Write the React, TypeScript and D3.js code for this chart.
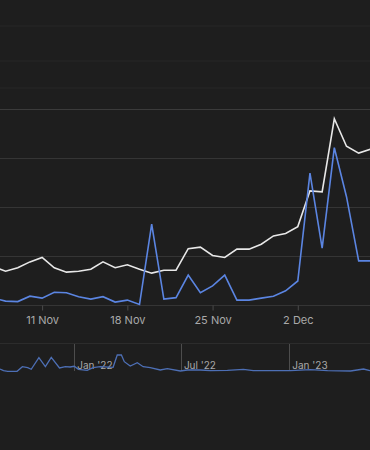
import React, { useRef, useEffect } from "react";
import * as d3 from "d3";

// daily values shown in the main panel (7 Nov .. 8 Dec 2021)
const startDay = "2021-11-07";
const totalSeries = [
  7.8, 6.9, 7.6, 8.8, 9.7, 7.6, 6.7, 6.9, 7.3, 8.8, 7.6, 8.2, 7.3, 6.5, 7.1, 7.1,
  11.5, 11.8, 10.1, 9.7, 11.4, 11.4, 12.4, 14.1, 14.6, 16.0, 23.3, 23.1, 38.0, 32.4,
  31.0, 31.8,
];
const newSeries = [
  1.4, 0.8, 0.7, 1.8, 1.4, 2.6, 2.5, 1.7, 1.2, 1.7, 0.6, 1.0, 0.1, 16.5, 1.2, 1.5,
  6.1, 2.5, 3.9, 6.1, 1.0, 1.0, 1.4, 1.8, 2.9, 4.9, 26.9, 11.6, 32.1, 22.1, 9.0, 9.0,
];
const xTicks = ["2021-11-11", "2021-11-18", "2021-11-25", "2021-12-02"];
const yTicks = [0, 10, 20, 30, 40];

// overview strip
const overviewDates = [
  "2021-08-28", "2021-09-03", "2021-09-10", "2021-09-26", "2021-10-05", "2021-10-14",
  "2021-10-20", "2021-11-02", "2021-11-13", "2021-11-23", "2021-12-07", "2021-12-17",
  "2021-12-25", "2022-01-01", "2022-01-08", "2022-01-23", "2022-02-02", "2022-02-14",
  "2022-03-08", "2022-03-15", "2022-03-22", "2022-03-27", "2022-04-06", "2022-04-18",
  "2022-04-28", "2022-05-10", "2022-05-27", "2022-06-08", "2022-06-30", "2022-07-12",
  "2022-08-03", "2022-08-20", "2022-09-18", "2022-10-15", "2022-11-01", "2022-12-12",
  "2023-01-03", "2023-02-06", "2023-03-07", "2023-04-15", "2023-05-07", "2023-05-18",
];
const overviewValues = [
  3, 1.3, 0.7, 0.7, 5.3, 4.3, 2.7, 14.3, 5.3, 14.7, 4, 5.3, 5, 5.7, 2.7, 1.7, 4.3, 5.3,
  4.7, 17, 17, 10.3, 6, 9.3, 5.3, 4.3, 2, 3.3, 1, 2, 2, 1.3, 1.7, 2.7, 1.3, 1.3, 1.3,
  2.3, 1.3, 1, 3, 1.3,
];
const overviewTicks = ["2022-01-01", "2022-07-01", "2023-01-01"];

const W = 370;
const H = 450;

export default function App() {
  const svgRef = useRef<SVGSVGElement>(null);

  useEffect(() => {
    const svg = d3.select(svgRef.current);
    svg.selectAll("*").remove();

    const parse = d3.utcParse("%Y-%m-%d");
    const day0 = parse(startDay)!;
    const days = totalSeries.map((_, i) => d3.utcDay.offset(day0, i));

    svg.append("rect").attr("width", W).attr("height", H).attr("fill", "#1e1e1e");

    // faint lines of the panel above
    [26, 61, 88].forEach((y) => {
      svg.append("line")
        .attr("x1", 0).attr("x2", W).attr("y1", y).attr("y2", y)
        .attr("stroke", "#272727").attr("stroke-width", 1);
    });

    // main panel scales
    const x = d3.scaleUtc()
      .domain([new Date(Date.UTC(2021, 10, 7, 13)), new Date(Date.UTC(2021, 11, 7, 22, 20))])
      .range([0, W]);
    const y = d3.scaleLinear().domain([0, 40]).range([305, 109]);

    svg.append("g")
      .selectAll("line")
      .data(yTicks)
      .join("line")
      .attr("x1", 0).attr("x2", W)
      .attr("y1", (d) => y(d) + 0.5).attr("y2", (d) => y(d) + 0.5)
      .attr("stroke", (d) => (d === 40 ? "#3b3b3b" : "#353535"))
      .attr("stroke-width", 1);

    const xAxis = d3.axisBottom(x)
      .tickValues(xTicks.map((t) => parse(t)!))
      .tickFormat((d) => d3.utcFormat("%-d %b")(d as Date))
      .tickSize(5)
      .tickPadding(6);
    const gx = svg.append("g").attr("transform", `translate(0,${y(0) + 0.5})`).call(xAxis);
    gx.select(".domain").remove();
    gx.selectAll(".tick line").attr("stroke", "#4a4a4a");
    gx.selectAll(".tick text")
      .attr("fill", "#a9a9a9")
      .attr("font-family", "Inter, 'Noto Sans', sans-serif")
      .attr("font-size", 11);

    svg.append("clipPath").attr("id", "plot-clip")
      .append("rect").attr("x", 0).attr("y", 0).attr("width", W).attr("height", 320);

    const lineGen = d3.line<number>()
      .x((_, i) => x(days[i]))
      .y((d) => y(d));

    svg.append("path")
      .datum(totalSeries)
      .attr("clip-path", "url(#plot-clip)")
      .attr("fill", "none")
      .attr("stroke", "#e8e8e8")
      .attr("stroke-width", 1.6)
      .attr("stroke-linejoin", "miter")
      .attr("d", lineGen);

    svg.append("path")
      .datum(newSeries)
      .attr("clip-path", "url(#plot-clip)")
      .attr("fill", "none")
      .attr("stroke", "#5b85e2")
      .attr("stroke-width", 1.6)
      .attr("d", lineGen);

    // overview strip
    const ox = d3.scaleUtc()
      .domain([parse("2021-08-28")!, parse("2023-05-18")!])
      .range([0, W]);
    const oy = d3.scaleLinear().domain([0, 20]).range([372, 352]);

    svg.append("line")
      .attr("x1", 0).attr("x2", W).attr("y1", 343.5).attr("y2", 343.5)
      .attr("stroke", "#2c2c2c");

    const og = svg.append("g");
    const ticks = overviewTicks.map((t) => parse(t)!);
    og.selectAll("line")
      .data(ticks)
      .join("line")
      .attr("x1", (d) => Math.round(ox(d)) + 0.5).attr("x2", (d) => Math.round(ox(d)) + 0.5)
      .attr("y1", 344).attr("y2", 371)
      .attr("stroke", "#4d4d4d");
    og.selectAll("text")
      .data(ticks)
      .join("text")
      .attr("x", (d) => ox(d) + 3)
      .attr("y", 369)
      .attr("fill", "#a9a9a9")
      .attr("font-family", "Inter, 'Noto Sans', sans-serif")
      .attr("font-size", 10)
      .text((d) => d3.utcFormat("%b '%y")(d));

    const oLine = d3.line<number>()
      .x((_, i) => ox(parse(overviewDates[i])!))
      .y((d) => oy(d));
    svg.append("path")
      .datum(overviewValues)
      .attr("fill", "none")
      .attr("stroke", "#4d6fb5")
      .attr("stroke-width", 1.3)
      .attr("d", oLine);
  }, []);

  return (
    <svg
      ref={svgRef}
      width={W}
      height={H}
      style={{ position: "absolute", left: 0, top: 0, display: "block" }}
    />
  );
}
